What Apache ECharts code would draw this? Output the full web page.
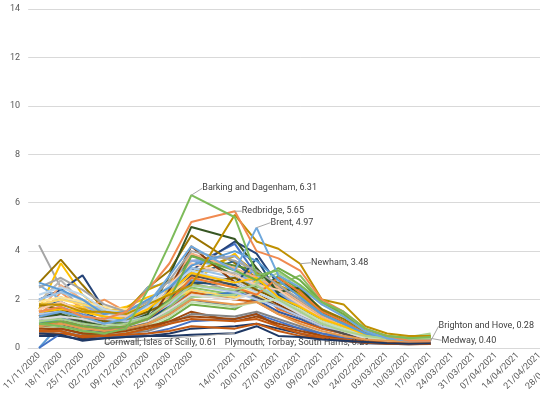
<!DOCTYPE html>
<html><head><meta charset="utf-8">
<script src="https://cdn.jsdelivr.net/npm/echarts@6/dist/echarts.min.js"></script>
<style>html,body{margin:0;padding:0;background:#fff;overflow:hidden;width:540px;height:394px}#c{width:572px;height:394px}</style>
</head><body><div id="c"></div>
<script>
// Category labels (index 8 is an empty category in the source chart)
const categories = ['11/11/2020','18/11/2020','25/11/2020','02/12/2020','09/12/2020','16/12/2020','23/12/2020','30/12/2020','','14/01/2021','20/01/2021','27/01/2021','03/02/2021','09/02/2021','16/02/2021','24/02/2021','03/03/2021','10/03/2021','17/03/2021','24/03/2021','31/03/2021','07/04/2021','14/04/2021','21/04/2021','28/04/2021'];
const yTicks = [0, 2, 4, 6, 8, 10, 12, 14];

// Background local authorities
const la01 = [1.2,1.4,1.1,0.9,1.0,1.5,2.4,3.4,null,4.3,3.0,2.2,1.8,1.2,0.9,0.5,0.35,0.3,0.3];
const la02 = [0.8,0.9,0.7,0.6,0.7,0.9,1.4,2.2,null,2.0,2.4,1.6,1.3,0.9,0.7,0.4,0.3,0.25,0.22];
const la03 = [4.25,2.5,1.6,1.3,1.1,1.4,2.0,2.9,null,2.3,2.6,1.9,1.5,1.0,0.8,0.5,0.3,0.25,0.25];
const la04 = [1.6,3.5,2.2,1.5,1.7,2.1,2.4,2.7,null,3.9,2.8,2.3,1.8,1.2,1.0,0.6,0.4,0.35,0.4];
const la05 = [0.0,1.0,0.8,0.6,0.7,1.0,1.6,2.4,null,2.1,3.1,2.3,1.6,1.1,0.8,0.5,0.3,0.3,0.28];
const la06 = [0.9,0.9,0.6,0.5,0.6,0.8,1.2,1.8,null,1.6,2.1,3.0,2.4,1.6,1.1,0.6,0.4,0.35,0.45];
const la07 = [2.0,2.4,3.0,1.6,1.2,1.3,2.2,3.2,null,4.4,3.9,2.6,1.9,1.3,0.9,0.5,0.35,0.3,0.3];
const la08 = [0.7,0.7,0.4,0.5,0.8,0.8,1.1,1.5,null,1.1,1.3,1.0,0.8,0.5,0.4,0.3,0.25,0.2,0.2];
const la09 = [1.4,1.6,1.2,1.0,1.0,1.2,1.8,2.6,null,2.4,2.2,1.8,1.4,1.0,0.7,0.4,0.3,0.25,0.25];
const la10 = [2.7,3.65,2.6,1.6,1.5,2.5,3.2,4.65,null,3.5,2.9,2.7,2.4,1.6,1.2,0.7,0.45,0.35,0.4];
const la11 = [1.8,1.9,1.5,1.1,1.0,1.3,2.1,3.0,null,3.6,2.7,2.5,2.0,1.3,1.0,0.6,0.4,0.3,0.35];
const la12 = [1.1,1.2,0.9,0.8,0.9,1.3,2.4,3.9,null,3.0,2.5,2.9,2.2,1.5,1.0,0.6,0.4,0.35,0.4];
const la13 = [1.5,1.7,1.4,1.1,1.0,1.2,1.9,2.8,null,2.6,3.3,2.1,1.7,1.1,0.8,0.5,0.3,0.3,0.3];
const la14 = [1.3,2.3,1.6,2.0,1.5,1.5,2.1,3.0,null,2.8,3.0,2.0,1.6,1.1,0.8,0.45,0.3,0.25,0.25];
const la15 = [1.9,2.8,1.9,1.3,1.2,1.6,2.4,3.3,null,3.1,2.7,2.2,1.7,1.2,0.9,0.5,0.35,0.3,0.3];
const la16 = [1.7,1.8,1.7,1.5,1.3,1.8,2.0,2.3,null,2.0,2.8,2.4,1.7,1.2,0.9,0.55,0.4,0.3,0.35];
const la17 = [2.6,2.0,1.9,1.2,1.4,2.5,2.7,3.6,null,3.3,2.4,2.3,1.9,1.3,1.0,0.6,0.4,0.3,0.3];
const la18 = [1.0,1.1,0.8,0.7,0.8,1.1,1.7,2.5,null,2.2,2.5,2.6,3.0,1.9,1.3,0.7,0.45,0.4,0.55];
const la19 = [1.2,1.3,1.0,0.8,0.9,1.0,1.4,2.0,null,1.7,2.0,1.5,1.2,0.8,0.6,0.4,0.3,0.2,0.25];
const la20 = [0.8,1.0,0.8,0.7,0.8,1.0,1.6,2.3,null,2.0,1.9,1.4,1.1,0.8,0.6,0.35,0.25,0.2,0.2];
const la21 = [0.6,0.7,0.5,0.5,0.6,0.7,1.0,1.4,null,1.3,1.5,1.2,0.9,0.6,0.5,0.3,0.25,0.2,0.2];
const la22 = [1.7,1.8,1.6,1.4,1.6,2.4,2.8,3.1,null,3.8,3.1,2.6,2.2,1.4,1.1,0.6,0.4,0.35,0.4];
const la23 = [1.0,1.2,1.1,0.9,0.8,1.0,1.5,2.1,null,2.3,2.1,1.7,1.3,0.9,0.6,0.4,0.3,0.25,0.3];
const la24 = [1.3,1.5,1.2,1.0,1.1,1.5,2.2,3.8,null,3.4,3.2,2.4,1.9,1.3,0.9,0.5,0.35,0.3,0.35];
const la25 = [1.6,2.1,1.8,1.3,1.2,1.4,2.3,3.6,null,3.8,3.0,2.2,1.8,1.2,0.8,0.5,0.3,0.3,0.3];
const la26 = [1.5,2.6,2.0,1.6,1.4,1.7,2.6,3.9,null,3.3,2.9,2.5,1.9,1.3,0.9,0.5,0.35,0.3,0.3];
const la27 = [1.1,1.3,1.1,0.9,1.0,1.4,2.2,3.1,null,2.8,2.4,2.0,1.5,1.0,0.7,0.45,0.3,0.25,0.3];
const la28 = [1.8,2.0,1.8,1.6,1.5,1.7,2.0,2.4,null,2.1,2.2,1.8,1.5,1.1,0.8,0.5,0.35,0.3,0.35];
const la29 = [2.0,2.3,2.0,1.5,1.3,1.5,2.3,3.3,null,2.9,2.6,2.1,1.6,1.1,0.8,0.5,0.3,0.25,0.3];
const la30 = [0.9,1.0,0.8,0.7,0.8,1.0,1.5,2.1,null,2.2,2.7,3.1,2.6,1.8,1.4,0.7,0.5,0.45,0.6];
const la31 = [0.5,0.5,0.35,0.4,0.45,0.5,0.6,0.8,null,0.9,1.0,0.8,0.6,0.4,0.3,0.2,0.18,0.15,0.18];
const la32 = [0.7,0.8,0.6,0.6,0.8,1.0,2.4,4.2,null,2.7,2.3,1.8,1.3,0.9,0.6,0.35,0.25,0.2,0.2];
const la33 = [1.3,1.4,1.0,0.9,1.0,1.3,2.0,3.0,null,2.6,2.1,1.7,1.3,0.9,0.6,0.4,0.3,0.25,0.25];
const la34 = [1.8,1.6,1.3,1.1,1.2,1.5,1.9,2.6,null,2.9,2.4,2.0,1.6,1.1,0.8,0.5,0.35,0.3,0.3];
const la35 = [0.9,1.0,0.7,0.7,0.8,1.1,1.8,2.7,null,2.6,3.7,2.2,1.6,1.1,0.8,0.45,0.3,0.25,0.3];
const la36 = [1.2,1.4,1.1,0.9,1.0,1.4,3.0,5.0,null,4.5,3.3,2.3,2.5,1.5,1.1,0.6,0.4,0.3,0.35];
const la37 = [1.4,1.5,1.3,1.2,1.1,1.3,1.8,2.6,null,2.3,2.0,1.7,1.3,0.9,0.7,0.4,0.3,0.25,0.25];
const la38 = [1.6,1.9,1.5,1.3,1.3,1.6,2.6,3.5,null,3.0,2.6,2.4,1.8,1.2,0.9,0.5,0.35,0.3,0.3];
const la39 = [1.2,1.3,1.2,1.0,0.9,1.1,1.6,2.2,null,2.0,2.3,1.9,1.4,1.0,0.7,0.4,0.3,0.25,0.25];
const la40 = [1.9,2.1,1.9,1.7,1.6,1.9,2.2,2.9,null,2.5,2.3,1.9,1.5,1.1,0.8,0.5,0.35,0.3,0.3];
const la41 = [2.2,2.5,2.2,1.6,1.4,1.7,2.6,3.2,null,2.7,2.3,1.9,1.5,1.0,0.8,0.5,0.3,0.25,0.3];
const la42 = [0.8,0.9,0.7,0.6,0.7,0.9,1.3,1.9,null,1.7,1.9,2.0,1.6,1.1,0.8,0.45,0.35,0.3,0.35];
const la43 = [0.0,0.6,0.5,0.45,0.5,0.6,0.8,1.1,null,1.2,1.4,1.1,0.8,0.6,0.4,0.3,0.2,0.2,0.2];
const la44 = [0.9,1.1,0.9,0.8,0.9,1.2,1.9,2.9,null,2.5,2.2,2.9,2.3,1.5,1.1,0.6,0.4,0.3,0.3];
const la45 = [2.5,2.9,2.4,1.8,1.5,1.9,2.8,4.0,null,3.6,3.2,2.6,2.0,1.4,1.0,0.55,0.4,0.3,0.3];
const la46 = [1.5,1.6,1.5,1.3,1.2,1.6,2.3,3.1,null,2.7,2.9,2.1,1.7,1.2,0.9,0.55,0.4,0.35,0.4];
const la47 = [2.7,2.4,2.0,1.4,1.5,2.0,2.5,3.4,null,4.0,3.6,2.8,2.1,1.4,1.0,0.6,0.4,0.3,0.3];
const la48 = [1.0,1.1,0.9,0.8,0.9,1.2,2.0,3.8,null,3.2,2.8,3.3,2.8,1.9,1.4,0.7,0.5,0.4,0.5];
const la49 = [0.8,0.8,0.6,0.6,0.7,0.9,1.1,1.3,null,1.2,1.4,0.9,0.7,0.5,0.35,0.25,0.2,0.18,0.2];
const la50 = [0.6,0.6,0.5,0.5,0.6,0.8,1.0,1.2,null,1.1,1.2,0.9,0.6,0.45,0.3,0.22,0.18,0.16,0.17];

// Labelled local authorities
const plymouth  = [0.7,0.7,0.45,0.5,0.55,0.6,0.7,0.9,null,0.8,1.0,0.7,0.5,0.4,0.35,0.29,0.22,0.18,0.2];
const cornwall  = [0.6,0.55,0.3,0.4,0.45,0.5,0.5,0.55,null,0.61,0.9,0.5,0.45,0.35,0.3,0.25,0.2,0.18,0.2];
const medway    = [1.1,1.2,1.0,0.9,1.0,1.3,1.9,2.6,null,2.4,2.6,2.0,1.5,1.0,0.7,0.5,0.4,0.38,0.40];
const brighton  = [0.9,1.0,0.8,0.7,0.8,1.0,1.4,2.0,null,1.8,1.9,1.4,1.0,0.7,0.5,0.35,0.3,0.27,0.28];
const newham    = [1.8,1.8,1.5,1.5,1.4,1.8,2.2,2.6,null,5.5,4.4,4.1,3.48,2.0,1.8,0.9,0.6,0.5,0.5];
const brent     = [1.3,1.5,1.3,1.0,1.2,1.8,3.0,4.2,null,3.2,4.97,3.0,2.5,1.8,1.3,0.7,0.4,0.3,0.3];
const redbridge = [1.5,1.7,1.3,1.2,1.5,2.4,3.5,5.2,null,5.65,4.0,3.7,3.2,2.0,1.5,0.8,0.5,0.3,0.3];
const barking   = [1.0,0.9,0.7,0.6,0.8,2.4,4.3,6.31,null,5.4,3.0,3.2,2.6,1.9,1.5,0.8,0.5,0.4,0.45];

const bgSeries = [la01,la02,la03,la04,la05,la06,la07,la08,la09,la10,la11,la12,la13,la14,la15,la16,la17,la18,la19,la20,la21,la22,la23,la24,la25,la26,la27,la28,la29,la30,la31,la32,la33,la34,la35,la36,la37,la38,la39,la40,la41,la42,la43,la44,la45,la46,la47,la48,la49,la50];
const bgColors = ['#4472C4','#ED7D31','#A5A5A5','#FFC000','#5B9BD5','#70AD47','#264478','#9E480E','#636363','#997300','#255E91','#43682B','#698ED0','#F1975A','#B7B7B7','#FFCD33','#7CAFDD','#8CC168','#335AA1','#D26012','#848484','#CC9A00','#3C7DC4','#5A8A39','#8FAADC','#F4B183','#C9C9C9','#FFD966','#9DC3E6','#A9D18E','#203864','#843C0C','#525252','#7F6000','#1F4E79','#375623','#B4C7E7','#F8CBAD','#DBDBDB','#FFE699','#BDD7EE','#C5E0B4','#4472C4','#ED7D31','#A5A5A5','#FFC000','#5B9BD5','#70AD47','#9E480E','#C55A11'];

const labelled = [
  {name:'Plymouth; Torbay; South Hams', data: plymouth, idx:15, color:'#C55A11', pos:'left', dx:4, dy:2, line:false},
  {name:'Cornwall; Isles of Scilly', data: cornwall, idx:9, color:'#1F3864', pos:'left', dx:-18, dy:10, line:true},
  {name:'Medway', data: medway, idx:18, color:'#A9D18E', pos:'right', dx:11, dy:2, line:true},
  {name:'Brighton and Hove', data: brighton, idx:18, color:'#E59A4F', pos:'right', dx:8, dy:-15, line:true},
  {name:'Newham', data: newham, idx:12, color:'#BF9000', pos:'right', dx:11, dy:-1, line:true},
  {name:'Brent', data: brent, idx:10, color:'#6FA8DC', pos:'right', dx:14, dy:-5, line:true},
  {name:'Redbridge', data: redbridge, idx:9, color:'#F08A50', pos:'right', dx:7, dy:0, line:true},
  {name:'Barking and Dagenham', data: barking, idx:7, color:'#7DBB5A', pos:'right', dx:11, dy:-7, line:true}
];

const series = [];
bgSeries.forEach((d, i) => {
  series.push({
    name: 'LA ' + (i + 1), type: 'line', data: d, connectNulls: true,
    symbol: 'none', lineStyle: {width: 2, color: bgColors[i]}, itemStyle: {color: bgColors[i]},
    silent: true, z: 2
  });
});
labelled.forEach((s, k) => {
  const data = s.data.map((v, i) => {
    if (i !== s.idx) return v;
    return {value: v, label: {show: true}};
  });
  series.push({
    name: s.name, type: 'line', data: data, connectNulls: true,
    symbol: 'circle', symbolSize: 0, showSymbol: true,
    lineStyle: {width: 2, color: s.color}, itemStyle: {color: s.color},
    label: {show: false, position: s.pos, distance: 0, formatter: (p) => s.name + ', ' + Number(p.value).toFixed(2),
      fontFamily: 'Roboto, "Liberation Sans", sans-serif', fontSize: 9, color: '#404040'},
    labelLine: {show: s.line, lineStyle: {color: '#A6A6A6', width: 1}},
    labelLayout: {dx: s.dx, dy: s.dy, hideOverlap: false},
    z: 3 + k
  });
});

const chart = echarts.init(document.getElementById('c'), null, {renderer: 'canvas'});
chart.setOption({
  animation: false,
  backgroundColor: '#ffffff',
  grid: {left: 22, right: 0, top: 9, bottom: 46, containLabel: false},
  xAxis: {
    type: 'category', data: categories, boundaryGap: true,
    axisLine: {show: true, lineStyle: {color: '#D9D9D9'}},
    axisTick: {show: false},
    axisLabel: {interval: 0, rotate: 45, fontSize: 9, color: '#595959', margin: 6,
      fontFamily: 'Roboto, "Liberation Sans", sans-serif'},
    splitLine: {show: false}
  },
  yAxis: {
    type: 'value', min: yTicks[0], max: yTicks[yTicks.length - 1], interval: 2,
    axisLine: {show: false}, axisTick: {show: false},
    axisLabel: {fontSize: 9, color: '#595959', margin: 8, fontFamily: 'Roboto, "Liberation Sans", sans-serif'},
    splitLine: {lineStyle: {color: '#D9D9D9', width: 1}}
  },
  series: series
});
</script>
</body></html>
